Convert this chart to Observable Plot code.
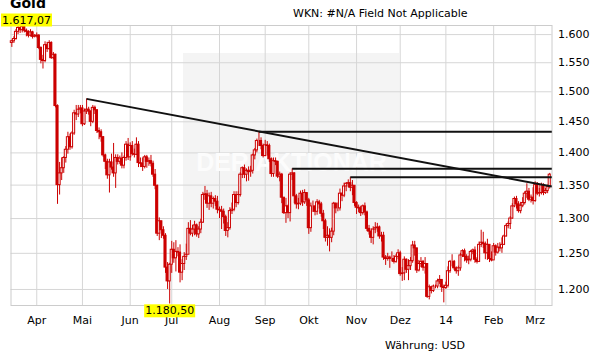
<!DOCTYPE html>
<html><head><meta charset="utf-8">
<script src="https://cdn.jsdelivr.net/npm/d3@7"></script>
<script src="https://cdn.jsdelivr.net/npm/@observablehq/plot@0.6"></script>
<style>
body{margin:0;background:#fff;}
#wrap{position:relative;width:611px;height:364px;overflow:hidden;font-family:"DejaVu Sans",Verdana,sans-serif;}
#wm{position:absolute;left:183px;top:53px;width:216px;height:217px;background:#f4f4f4;}
#title{position:absolute;left:10px;top:-5px;font:bold 14px/16px "DejaVu Sans";color:#000;white-space:nowrap;}
#wkn{position:absolute;left:293px;top:7px;font:11px/13px "DejaVu Sans";color:#000;white-space:nowrap;}
#cur{position:absolute;left:385px;top:339px;font:11px/13px "DejaVu Sans";color:#000;white-space:nowrap;}
#wrap svg{position:absolute;left:0;top:0;}
</style></head>
<body>
<div id="wrap">
  <div id="wm"></div>
  <div id="title">Gold</div>
  <div id="wkn">WKN: #N/A Field Not Applicable</div>
  <div id="cur">Währung: USD</div>
</div>
<script>
// ---- data (daily gold, USD, weekdays from 2013-03-14) ----
const startDate = "2013-03-14";
const endDate = "2014-03-13"; // exclusive
const monthLabels = ["Apr","Mai","Jun","Jul","Aug","Sep","Okt","Nov","Dez","14","Feb","Mrz"];
const yTicks = [1200,1250,1300,1350,1400,1450,1500,1550,1600];
const open0 = 1585;
const close = [
 1588,1592,1605,1612,1608,1614,1607,1605,1598,1604,1596,1597,
 1598,1576,1555,1553,1581,1574,1585,1558,1564,1476,1350,1368,1376,1392,1405,1425,1409,1431,1464,1462,1470,1472,
 1446,1467,1470,1467,1450,1473,1469,1435,1433,1425,1396,1386,1365,1385,1377,1368,1392,1386,1391,1380,1392,1413,1393,
 1411,1398,1397,1413,1384,1383,1378,1393,1386,1387,1383,1366,1349,1278,1296,1283,1275,1230,1211,1234,
 1255,1243,1252,1251,1223,1235,1245,1248,1285,1278,1284,1290,1277,1284,1294,1335,1336,1322,1333,1322,1329,1325,1313,
 1312,1310,1302,1282,1286,1311,1313,1335,1323,1335,1366,1376,1366,1372,1370,1372,1396,1404,1419,1419,1411,1395,
 1412,1411,1390,1367,1387,1386,1363,1366,1331,1308,1318,1308,1366,1368,1333,1321,1322,1337,1324,1338,1327,
 1286,1318,1318,1310,1324,1321,1307,1296,1272,1275,1272,1281,1322,1315,1315,1337,1334,1348,1352,1353,1346,1349,1323,
 1316,1315,1308,1318,1309,1285,1281,1272,1284,1286,1287,1274,1275,1244,1242,1244,1242,1242,1238,1245,1250,
 1221,1222,1241,1227,1232,1239,1261,1257,1226,1235,1238,1230,1235,1190,1203,1198,1204,1204,1211,1213,1203,1202,
 1205,1225,1238,1238,1229,1225,1229,1247,1253,1245,1240,1241,1252,1254,1241,1238,1262,1265,1263,1250,1262,1242,1240,
 1260,1251,1258,1257,1262,1274,1289,1292,1300,1318,1329,1321,1311,1319,1323,1337,1340,1328,1331,1326,
 1350,1337,1338,1350,1338,1341,1347,1366
];
const high = [
 1590,1596,1609,1615,1614,1617.07,1615,1610,1607,1609,1606,1600,
 1603,1600,1578,1563,1587,1586,1589,1587,1568,1565,1478,1385,1392,1394,1410,1433,1430,1434,1469,1477,1477,1477,
 1477,1471,1488,1474,1468,1477,1476,1470,1440,1437,1426,1398,1390,1390,1398,1415,1397,1397,1395,1400,1395,1418,1423,
 1416,1418,1406,1424,1418,1392,1392,1396,1396,1392,1396,1387,1374,1350,1301,1296,1288,1278,1237,1236,
 1267,1265,1268,1258,1262,1241,1251,1263,1294,1297,1290,1296,1292,1288,1299,1339,1348,1342,1338,1339,1332,1334,1333,
 1317,1318,1314,1305,1294,1316,1323,1340,1340,1340,1369,1378,1381,1375,1378,1379,1398,1407,1422,1434,1424,1414,
 1420,1418,1414,1392,1392,1392,1387,1370,1368,1330,1330,1320,1369,1375,1369,1336,1330,1341,1342,1343,1338,
 1330,1323,1326,1318,1328,1327,1324,1312,1299,1288,1285,1286,1324,1323,1323,1344,1338,1353,1354,1358,1362,1357,1348,
 1325,1320,1318,1320,1323,1311,1290,1285,1288,1294,1293,1289,1280,1280,1247,1250,1246,1252,1247,1248,1255,
 1253,1230,1245,1242,1241,1244,1267,1267,1257,1240,1244,1240,1244,1235,1206,1204,1206,1206,1214,1219,1213,1206,
 1210,1231,1240,1248,1240,1231,1232,1250,1255,1256,1248,1246,1254,1256,1259,1244,1266,1283,1280,1266,1270,1256,1252,
 1264,1262,1264,1265,1272,1276,1292,1295,1303,1322,1332,1333,1325,1324,1331,1340,1352,1345,1335,1346,
 1355,1354,1345,1353,1352,1345,1350,1368
];
const low = [
 1577,1584,1590,1600,1602,1603,1603,1596,1594,1596,1592,1594,
 1594,1573,1548,1539,1550,1568,1572,1556,1555,1473,1321,1335,1357,1368,1384,1398,1404,1406,1428,1452,1457,1463,
 1442,1444,1462,1461,1442,1447,1462,1431,1421,1417,1393,1374,1359,1338,1373,1362,1345,1381,1382,1375,1375,1387,1388,
 1387,1395,1392,1396,1377,1377,1371,1375,1376,1379,1378,1362,1343,1274,1268,1271,1270,1222,1200,1180.5,
 1222,1236,1224,1245,1209,1212,1226,1240,1252,1275,1273,1275,1273,1271,1278,1293,1327,1315,1312,1316,1314,1318,1307,
 1300,1284,1292,1274,1272,1283,1306,1310,1316,1320,1332,1360,1360,1355,1356,1362,1367,1389,1400,1410,1405,1392,
 1394,1395,1385,1362,1362,1380,1360,1355,1322,1306,1293,1300,1295,1357,1322,1314,1313,1319,1318,1321,1318,
 1277,1280,1309,1304,1305,1314,1302,1284,1266,1260,1252,1265,1275,1307,1310,1311,1325,1331,1340,1346,1340,1334,1318,
 1306,1309,1303,1305,1304,1281,1276,1264,1262,1278,1280,1270,1266,1240,1233,1239,1229,1238,1235,1236,1241,
 1218,1211,1212,1222,1212,1226,1236,1246,1222,1224,1230,1225,1221,1188,1186,1194,1196,1201,1201,1207,1196,1182,
 1200,1202,1222,1231,1226,1221,1218,1225,1244,1238,1236,1234,1238,1248,1236,1235,1237,1258,1257,1241,1240,1237,1238,
 1240,1246,1249,1252,1250,1261,1273,1285,1284,1299,1316,1314,1308,1307,1316,1320,1330,1325,1323,1320,
 1324,1334,1332,1335,1334,1336,1337,1344
];
// trend / resistance lines drawn on the chart
const lineStart = ["2013-05-03","2013-08-28","2013-09-19","2013-10-29"];
const lineStartPrice = [1488,1434,1375,1362];
const lineEnd = ["2014-03-13","2014-03-13","2014-03-13","2014-03-13"];
const lineEndPrice = [1348,1434,1375,1362];

// ---- build ----
const isWd = d => d.getUTCDay() % 6 !== 0;
const t0 = new Date(startDate + "T00:00:00Z");
const dates = d3.utcDays(t0, new Date(endDate + "T00:00:00Z")).filter(isWd).slice(0, close.length);
const idxOf = s => d3.utcDays(t0, new Date(s + "T00:00:00Z")).filter(isWd).length;
const data = close.map((c, i) => ({i, date: dates[i], open: i ? close[i-1] : open0, close: c, high: high[i], low: low[i]}));
const monthIdx = [];
for (let i = 1; i < dates.length; i++) if (dates[i].getUTCMonth() !== dates[i-1].getUTCMonth()) monthIdx.push(i);
const labelOf = new Map(monthIdx.map((v, k) => [v, monthLabels[k]]));
const lines = lineStart.map((s, k) => ({x1: idxOf(s), y1: lineStartPrice[k], x2: idxOf(lineEnd[k]), y2: lineEndPrice[k]}));

const de = d3.formatLocale({decimal: ",", thousands: ".", grouping: [3], currency: ["", ""]});
const fmtInt = de.format(",d");
const fmt2 = de.format(",.2f");
const maxD = data.reduce((a, b) => b.high > a.high ? b : a);
const minD = data.reduce((a, b) => b.low < a.low ? b : a);

const red = "#cc0000";
const grid = "#d6d6d6";
const chart = Plot.plot({
  width: 611, height: 364,
  marginLeft: 10.5, marginRight: 59.5, marginTop: 25, marginBottom: 59,
  style: {fontFamily: "DejaVu Sans, Verdana, sans-serif", fontSize: "11px", background: "transparent", color: "#000", overflow: "visible"},
  x: {type: "linear", domain: [-0.4, 260.1]},
  y: {type: "log", domain: [1178.5, 1616.5]},
  color: {type: "identity"},
  marks: [
    Plot.gridY(yTicks, {stroke: grid, strokeOpacity: 1}),
    Plot.gridX(monthIdx, {stroke: grid, strokeOpacity: 1}),
    Plot.frame({stroke: "#cccccc"}),
    Plot.text(["DER AKTIONÄR"], {frameAnchor: "middle", dx: 10, dy: -3, fontSize: 25, fontWeight: "bold", fill: "#fcfcfc", fontFamily: "Liberation Sans"}),
    Plot.ruleX(data, {x: "i", y1: "low", y2: "high", stroke: red, strokeWidth: 1}),
    Plot.rect(data, {x1: d => d.i - 0.5, x2: d => d.i + 0.5, y1: "open", y2: "close",
      fill: d => d.close >= d.open ? "#ffffff" : red, stroke: red, strokeWidth: 1}),
    Plot.link(lines, {x1: "x1", y1: "y1", x2: "x2", y2: "y2", stroke: "#111", strokeWidth: 2}),
    Plot.axisY(yTicks, {anchor: "right", tickSize: 0, tickPadding: 6, tickFormat: fmtInt, fontSize: 11}),
    Plot.axisX(monthIdx, {anchor: "bottom", tickSize: 0, tickPadding: 11, tickFormat: d => labelOf.get(d), fontSize: 11}),
    Plot.text([maxD], {x: "i", text: d => fmt2(d.high), frameAnchor: "top", lineAnchor: "bottom", dy: -2, fill: "#000", fontSize: 11, ariaDescription: "hl"}),
    Plot.text([minD], {x: "i", text: d => fmt2(d.low), frameAnchor: "bottom", lineAnchor: "top", dy: 1, fill: "#000", fontSize: 11, ariaDescription: "hl"})
  ]
});
document.getElementById("wrap").appendChild(chart);

// yellow boxes behind the high/low labels
const sr = chart.getBoundingClientRect();
chart.querySelectorAll('g[aria-description="hl"]').forEach(g => {
  g.querySelectorAll("text").forEach(t => {
    let r = t.getBoundingClientRect();
    const left = r.left - sr.left - 1;
    if (left < 1) {
      t.setAttribute("transform", (t.getAttribute("transform") || "") + ` translate(${1 - left},0)`);
      r = t.getBoundingClientRect();
    }
    const rect = document.createElementNS("http://www.w3.org/2000/svg", "rect");
    rect.setAttribute("x", r.left - sr.left - 1);
    rect.setAttribute("y", r.top - sr.top);
    rect.setAttribute("width", r.width + 2);
    rect.setAttribute("height", r.height);
    rect.setAttribute("fill", "#ffff00");
    g.parentNode.insertBefore(rect, g);
  });
});
</script>
</body></html>
